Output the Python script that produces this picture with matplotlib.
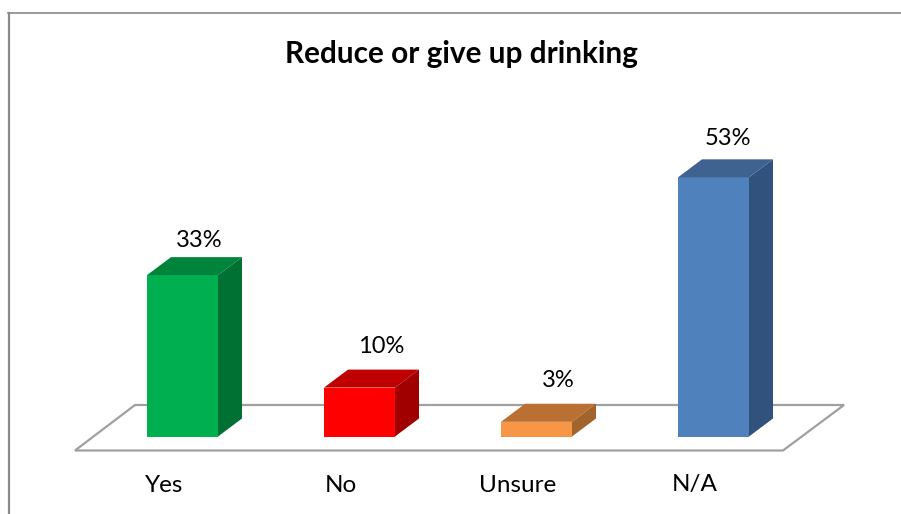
import matplotlib
matplotlib.use('Agg')
import matplotlib.pyplot as plt
from matplotlib.lines import Line2D
from matplotlib.patches import Polygon

categories = ["Yes", "No", "Unsure", "N/A"]
values = [33, 10, 3, 53]
front_colors = ["#00B050", "#FF0000", "#F79646", "#4F81BD"]
top_colors = ["#00843C", "#C00000", "#B97032", "#3E6390"]
side_colors = ["#007033", "#A00000", "#A2642D", "#31527C"]

W, H = 901, 514
x_step = 177.0   # px between categories
y_unit = 4.89    # px per percent
x0_px = 182.5
y0_px = 436.5
pt = 0.72        # px to points at dpi 100

# label offsets from the bar's top centre, px
label_dx = [17, 22, 21.5, 14.5]
label_dy = [35, 41, 41, 39]

plt.rcParams['font.family'] = ['Lato', 'DejaVu Sans']

fig = plt.figure(figsize=(W / 100, H / 100), dpi=100)
ax = fig.add_axes([0, 0, 1, 1])
ax.set_xlim(-x0_px / x_step, (W - x0_px) / x_step)
ax.set_ylim(-(H - y0_px) / y_unit, y0_px / y_unit)
ax.axis('off')

bar_w = 71 / x_step
dx = 24 / x_step
dy = 18 / y_unit

# floor
floor = [(-107.5 / x_step, -14 / y_unit), (600.5 / x_step, -14 / y_unit),
         (661.5 / x_step, 31.5 / y_unit), (-47.5 / x_step, 31.5 / y_unit)]
ax.add_patch(Polygon(floor, closed=True, fc='white', ec='#A0A0A0', lw=1.6, zorder=1))

bars = ax.bar(range(len(values)), values, width=bar_w, color=front_colors, zorder=3)

for i, v in enumerate(values):
    l = i - bar_w / 2
    r = i + bar_w / 2
    ax.add_patch(Polygon([(l, v), (r, v), (r + dx, v + dy), (l + dx, v + dy)],
                         closed=True, fc=top_colors[i], ec='none', zorder=3))
    ax.add_patch(Polygon([(r, 0), (r + dx, dy), (r + dx, v + dy), (r, v)],
                         closed=True, fc=side_colors[i], ec='none', zorder=3))
    ax.annotate(f"{v}%", (i, v), xytext=(label_dx[i] * pt, label_dy[i] * pt),
                textcoords='offset points', ha='center', va='center',
                fontsize=17, color='black', zorder=4)
    ax.annotate(categories[i], (i, 0), xytext=(-18.5 * pt, -48.5 * pt),
                textcoords='offset points', ha='center', va='center',
                fontsize=17.5, color='black', zorder=4)

fig.text(461.5 / W, 1 - 54 / H, "Reduce or give up drinking", ha='center', va='center',
         fontsize=21.4, fontweight='bold', color='black')

# chart frame, only top and left show
fig.add_artist(Line2D([8.5 / W, 8.5 / W], [0, 1 - 12.5 / H], color='#8A8A8A', lw=1.6))
fig.add_artist(Line2D([8 / W, 1], [1 - 12.5 / H, 1 - 12.5 / H], color='#8A8A8A', lw=1.2))

fig.savefig('out.png', dpi=100, facecolor='white')
